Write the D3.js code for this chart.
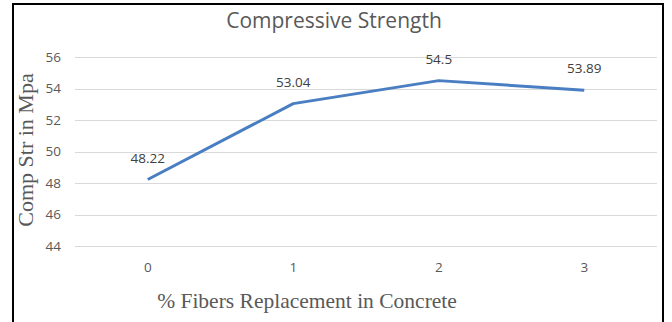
<!DOCTYPE html>
<html>
<head>
<meta charset="utf-8">
<script src="https://cdn.jsdelivr.net/npm/d3@7/dist/d3.min.js"></script>
<style>
  body { margin: 0; background: #fff; }
  svg { display: block; }
</style>
</head>
<body>
<svg width="672" height="322"></svg>
<script>
const categories = ["0", "1", "2", "3"];
const strength = [48.22, 53.04, 54.5, 53.89];
const yTicks = [44, 46, 48, 50, 52, 54, 56];

const svg = d3.select("svg");
const width = 672;
const height = 322;
const margin = { top: 57, right: 15, bottom: 76, left: 75 };

// outer frame
svg.append("rect")
    .attr("x", 13)
    .attr("y", 4)
    .attr("width", 650)
    .attr("height", 340)
    .attr("fill", "none")
    .attr("stroke", "#000")
    .attr("stroke-width", 2);

const x = d3.scaleBand()
    .domain(categories)
    .range([margin.left, width - margin.right])
    .padding(0);

const y = d3.scaleLinear()
    .domain([44, 56])
    .range([height - margin.bottom, margin.top]);

// gridlines
svg.append("g")
    .selectAll("line")
    .data(yTicks)
    .enter()
    .append("line")
    .attr("x1", margin.left)
    .attr("x2", width - margin.right)
    .attr("y1", d => Math.round(y(d)) + 0.5)
    .attr("y2", d => Math.round(y(d)) + 0.5)
    .attr("stroke", "#d9d9d9")
    .attr("stroke-width", 1);

// y axis labels
const yAxis = svg.append("g")
    .attr("transform", `translate(${margin.left}, 0)`)
    .call(d3.axisLeft(y).tickValues(yTicks).tickSize(0).tickPadding(14));
yAxis.select(".domain").remove();
yAxis.selectAll("text")
    .attr("font-family", "'Open Sans', sans-serif")
    .attr("font-size", "13.5px")
    .attr("fill", "#595959");

// x axis labels
const xAxis = svg.append("g")
    .attr("transform", `translate(0, ${height - margin.bottom})`)
    .call(d3.axisBottom(x).tickSize(0).tickPadding(16));
xAxis.select(".domain").remove();
xAxis.selectAll("text")
    .attr("font-family", "'Open Sans', sans-serif")
    .attr("font-size", "13.5px")
    .attr("fill", "#595959");

const points = categories.map((c, i) => ({ cat: c, value: strength[i] }));
const cx = d => x(d.cat) + x.bandwidth() / 2;

svg.append("path")
    .datum(points)
    .attr("fill", "none")
    .attr("stroke", "#4a7ec2")
    .attr("stroke-width", 3)
    .attr("stroke-linejoin", "round")
    .attr("d", d3.line().x(cx).y(d => y(d.value)));

svg.append("g")
    .selectAll("text")
    .data(points)
    .enter()
    .append("text")
    .attr("x", cx)
    .attr("y", d => y(d.value) - 17)
    .attr("text-anchor", "middle")
    .attr("font-family", "'Open Sans', sans-serif")
    .attr("font-size", "13.5px")
    .attr("fill", "#404040")
    .text(d => d.value);

// titles
svg.append("text")
    .attr("x", 334)
    .attr("y", 28)
    .attr("text-anchor", "middle")
    .attr("font-family", "'Open Sans', sans-serif")
    .attr("font-size", "21px")
    .attr("fill", "#595959")
    .text("Compressive Strength");

svg.append("text")
    .attr("transform", "translate(33, 150) rotate(-90)")
    .attr("text-anchor", "middle")
    .attr("font-family", "'Liberation Serif', serif")
    .attr("font-size", "22px")
    .attr("fill", "#595959")
    .text("Comp Str in Mpa");

svg.append("text")
    .attr("x", 307)
    .attr("y", 308)
    .attr("text-anchor", "middle")
    .attr("font-family", "'Liberation Serif', serif")
    .attr("font-size", "21.5px")
    .attr("fill", "#595959")
    .text("% Fibers Replacement in Concrete");
</script>
</body>
</html>
